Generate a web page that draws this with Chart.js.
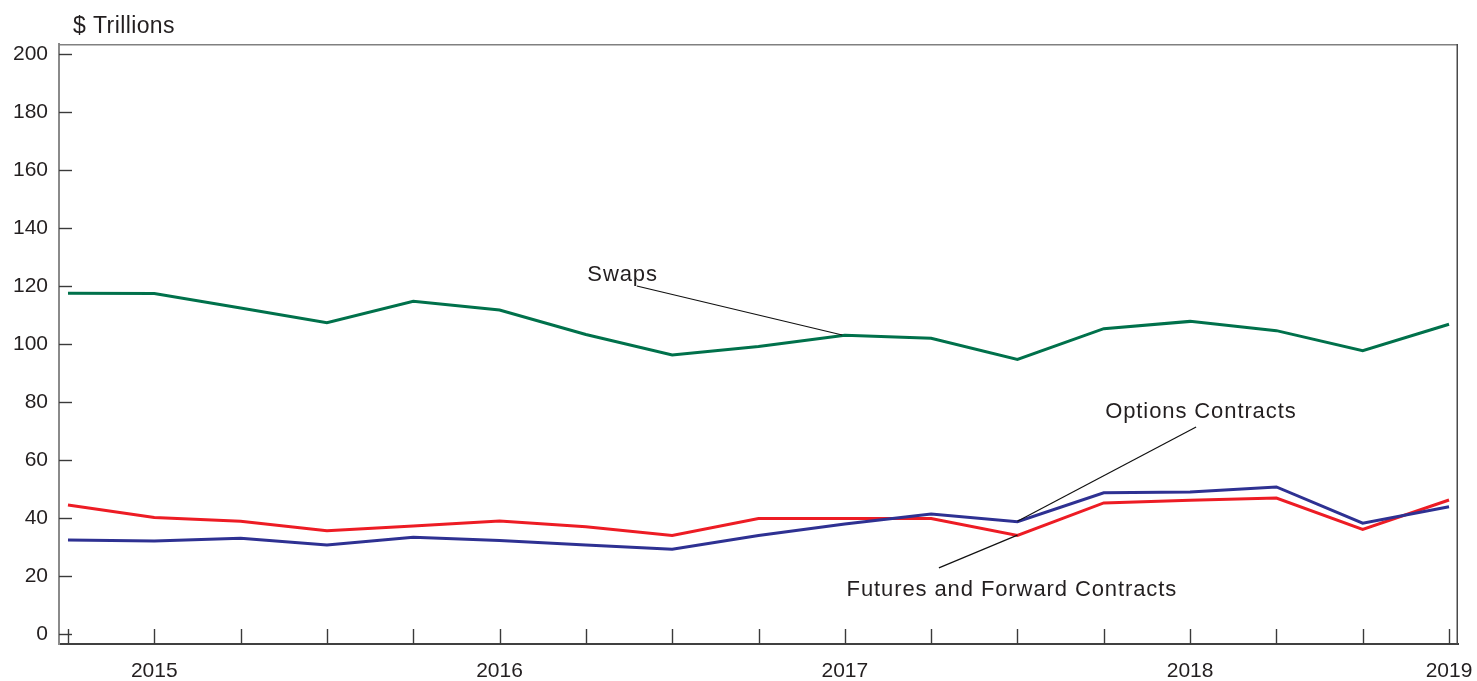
<!DOCTYPE html>
<html>
<head>
<meta charset="utf-8">
<script src="https://cdn.jsdelivr.net/npm/chart.js@4.4.1/dist/chart.umd.min.js"></script>
<style>
  html, body { margin: 0; padding: 0; background: #ffffff; }
  #wrap { width: 1477px; height: 681px; position: relative; }
</style>
</head>
<body>
<div id="wrap"><canvas id="c"></canvas></div>
<script>
// ---- Data (quarterly, $ trillions) ----
const quarters = ['2014 Q4','2015 Q1','2015 Q2','2015 Q3','2015 Q4','2016 Q1','2016 Q2','2016 Q3','2016 Q4',
                  '2017 Q1','2017 Q2','2017 Q3','2017 Q4','2018 Q1','2018 Q2','2018 Q3','2018 Q4'];
const swaps            = [117.5, 117.4, 112.4, 107.3, 114.7, 111.7, 103.3, 96.2, 99.1, 103.0, 102.0, 94.7, 105.3, 107.8, 104.6, 97.7, 106.8];
const futuresForwards  = [44.5, 40.2, 38.9, 35.6, 37.2, 39.0, 37.0, 34.0, 39.8, 39.8, 39.8, 34.0, 45.2, 46.1, 46.9, 36.1, 46.2];
const optionsContracts = [32.4, 32.1, 33.0, 30.7, 33.4, 32.2, 30.7, 29.2, 34.0, 37.9, 41.4, 38.7, 48.7, 49.0, 50.7, 38.2, 43.9];

const yTickValues = [0, 20, 40, 60, 80, 100, 120, 140, 160, 180, 200];
const yearTickIndex  = [1, 5, 9, 13, 16];
const yearTickLabels = ['2015', '2016', '2017', '2018', '2019'];
const yAxisTitle = '$ Trillions';
const seriesNames = ['Swaps', 'Options Contracts', 'Futures and Forward Contracts'];

// ---- Styling ----
const FONT = '"Liberation Sans", Arial, Helvetica, sans-serif';
const TEXT = '#231F20';
const GREEN = '#00714B';
const RED = '#ED1C24';
const BLUE = '#2E3192';

// annotation placement in data units (x = quarter index, y = $ trillions)
const annotations = [
  { text: seriesNames[0], tx: 6.42, ty: 121.7, line: [[6.59, 120.0], [8.97, 103.1]] },
  { text: seriesNames[1], tx: 13.12, ty: 74.5, line: [[13.07, 71.4], [11.0, 38.9]] },
  { text: seriesNames[2], tx: 10.93, ty: 13.1, line: [[10.09, 22.8], [11.0, 34.1]] }
];

const toXY = arr => arr.map((v, i) => ({ x: i, y: v }));

const framePlugin = {
  id: 'framePlugin',
  beforeDatasetsDraw(chart) {
    const { ctx, chartArea: a, scales: { x, y } } = chart;
    ctx.save();
    ctx.lineWidth = 1.5;
    ctx.strokeStyle = '#808080';
    ctx.beginPath();
    ctx.moveTo(a.left, a.top + 0.75);
    ctx.lineTo(a.right, a.top + 0.75);
    ctx.stroke();
    ctx.strokeStyle = '#4a4a4a';
    ctx.beginPath();
    ctx.moveTo(a.right - 0.75, a.top);
    ctx.lineTo(a.right - 0.75, a.bottom);
    ctx.stroke();
    ctx.strokeStyle = '#3a3a3a';
    ctx.lineWidth = 1.4;
    x.ticks.forEach(t => {
      const px = Math.round(x.getPixelForValue(t.value)) + 0.5;
      ctx.beginPath();
      ctx.moveTo(px, a.bottom);
      ctx.lineTo(px, a.bottom - 15);
      ctx.stroke();
    });
    y.ticks.forEach(t => {
      const py = Math.round(y.getPixelForValue(t.value)) + 0.5;
      ctx.beginPath();
      ctx.moveTo(a.left, py);
      ctx.lineTo(a.left + 13, py);
      ctx.stroke();
    });
    ctx.restore();
  },
  afterDatasetsDraw(chart) {
    const { ctx, scales: { x, y } } = chart;
    ctx.save();
    ctx.strokeStyle = '#111111';
    ctx.lineWidth = 1.2;
    annotations.forEach(an => {
      ctx.beginPath();
      ctx.moveTo(x.getPixelForValue(an.line[0][0]), y.getPixelForValue(an.line[0][1]));
      ctx.lineTo(x.getPixelForValue(an.line[1][0]), y.getPixelForValue(an.line[1][1]));
      ctx.stroke();
    });
    ctx.fillStyle = TEXT;
    ctx.font = '22px ' + FONT;
    ctx.letterSpacing = '0.9px';
    ctx.textAlign = 'center';
    ctx.textBaseline = 'alphabetic';
    annotations.forEach(an => {
      ctx.fillText(an.text, x.getPixelForValue(an.tx) + 0.45, y.getPixelForValue(an.ty));
    });
    ctx.restore();
  },
  afterDraw(chart) {
    const { ctx } = chart;
    ctx.save();
    ctx.fillStyle = TEXT;
    ctx.font = '23px ' + FONT;
    ctx.letterSpacing = '0.4px';
    ctx.textAlign = 'left';
    ctx.textBaseline = 'alphabetic';
    ctx.fillText(yAxisTitle, 73, 33);
    ctx.restore();
  }
};

new Chart(document.getElementById('c'), {
  type: 'line',
  data: {
    datasets: [
      { label: seriesNames[0], data: toXY(swaps), borderColor: GREEN, borderWidth: 3 },
      { label: seriesNames[1], data: toXY(optionsContracts), borderColor: BLUE, borderWidth: 3 },
      { label: seriesNames[2], data: toXY(futuresForwards), borderColor: RED, borderWidth: 3 }
    ]
  },
  options: {
    responsive: true,
    maintainAspectRatio: false,
    animation: false,
    devicePixelRatio: 1,
    layout: { padding: { left: 0, right: 19, top: 44, bottom: 0 } },
    elements: {
      point: { radius: 0, hoverRadius: 0 },
      line: { tension: 0, fill: false, borderJoinStyle: 'miter', borderCapStyle: 'butt' }
    },
    plugins: {
      legend: { display: false },
      title: { display: false },
      tooltip: { enabled: false }
    },
    scales: {
      x: {
        type: 'linear',
        min: -0.104,
        max: 16.104,
        afterFit(scale) {
          scale.height = 37;
          scale.paddingLeft = 0;
          scale.paddingRight = 0;
        },
        afterBuildTicks(scale) {
          scale.ticks = quarters.map((q, i) => ({ value: i }));
        },
        grid: { display: false, drawTicks: false },
        border: { display: true, color: '#404040', width: 2 },
        ticks: {
          autoSkip: false,
          maxRotation: 0,
          padding: 15,
          color: TEXT,
          font: { family: FONT, size: 21 },
          callback(value) {
            const k = yearTickIndex.indexOf(value);
            return k >= 0 ? yearTickLabels[k] : '';
          }
        }
      },
      y: {
        type: 'linear',
        min: -3.45,
        max: 203.45,
        afterFit(scale) {
          scale.width = 59;
          scale.paddingTop = 0;
          scale.paddingBottom = 0;
        },
        afterBuildTicks(scale) {
          scale.ticks = yTickValues.map(v => ({ value: v }));
        },
        grid: { display: false, drawTicks: false },
        border: { display: true, color: '#8a8a8a', width: 2 },
        ticks: {
          padding: 11,
          color: TEXT,
          font: { family: FONT, size: 21 },
          callback(value) { return String(value); }
        }
      }
    }
  },
  plugins: [framePlugin]
});
</script>
</body>
</html>
